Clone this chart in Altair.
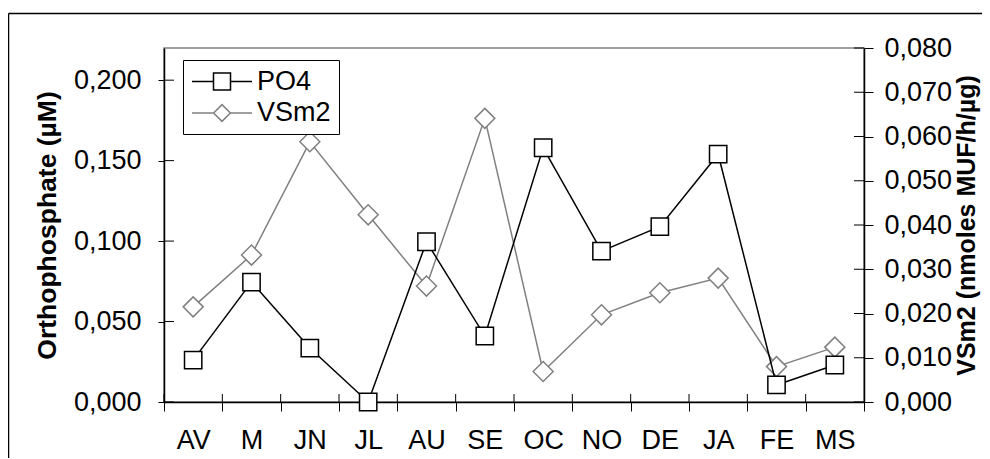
import altair as alt
import pandas as pd

months = ["AV", "M", "JN", "JL", "AU", "SE", "OC", "NO", "DE", "JA", "FE", "MS"]
po4 = [0.026, 0.0745, 0.0335, 0.0, 0.0996, 0.041, 0.158, 0.0938, 0.109, 0.154, 0.0106, 0.023]
vsm2 = [0.0215, 0.0332, 0.0588, 0.0423, 0.0262, 0.0641, 0.0069, 0.0197, 0.0247, 0.0280, 0.0080, 0.0124]
series = ["PO4", "VSm2"]
left_ticks = [0.0, 0.05, 0.10, 0.15, 0.20]
right_ticks = [0.0, 0.01, 0.02, 0.03, 0.04, 0.05, 0.06, 0.07, 0.08]
left_domain = [0, 0.22]
right_domain = [0, 0.08]

FONT = "Liberation Sans"
COMMA = "replace(format(datum.value, '.3f'), '.', ',')"
GRAY = "#808080"

df_p = pd.DataFrame({"month": months, "value": po4, "series": "PO4"})
df_v = pd.DataFrame({"month": months, "value": vsm2, "series": "VSm2"})
df_all = pd.concat([df_p, df_v], ignore_index=True)

xscale = alt.Scale(type="band", domain=months, paddingInner=0, paddingOuter=0)
xaxis = alt.Axis(title=None, tickBand="extent", labelAngle=0, labelFont=FONT, labelFontSize=27,
                 labelColor="black", tickSize=9, tickColor="black", tickWidth=1,
                 domainColor="black", domainWidth=1.5, labelPadding=16)
xenc = alt.X("month:N", sort=months, scale=xscale, axis=xaxis)
xenc_edge = alt.X("month:N", sort=months, bandPosition=0, scale=xscale, axis=xaxis)

lscale = alt.Scale(domain=left_domain, nice=False, zero=True)
rscale = alt.Scale(domain=right_domain, nice=False, zero=True)

laxis = alt.Axis(title="Orthophosphate (µM)", values=left_ticks, labelExpr=COMMA, grid=False,
                 orient="left", tickSize=6, tickColor="black", domainColor="black", domainWidth=1.5,
                 labelPadding=17, labelFont=FONT, labelFontSize=27, labelColor="black",
                 titleFont=FONT, titleFontSize=26.5, titleFontWeight="bold", titleColor="black",
                 titlePadding=12)
raxis = alt.Axis(title="VSm2 (nmoles MUF/h/µg)", values=right_ticks, labelExpr=COMMA, grid=False,
                 orient="right", tickSize=9, tickColor="black", domainColor="black", domainWidth=1.5,
                 labelPadding=11, labelFont=FONT, labelFontSize=27, labelColor="black",
                 titleFont=FONT, titleFontSize=25, titleFontWeight="bold", titleColor="black",
                 titleAngle=270, titleBaseline="top", titlePadding=3)

# legend symbols: connecting line with the marker, drawn in symbol units (12.5 px)
sq_path = "M-1,0H0.72M2.08,0H3.8M0.72,-0.68H2.08V0.68H0.72Z"
dia_path = "M-1,0H0.73M2.07,0H3.8M0.73,0L1.4,-0.67L2.07,0L1.4,0.67Z"

legend = alt.Legend(title=None, orient="none", legendX=19, legendY=12, symbolSize=625,
                    symbolStrokeWidth=1.5, symbolFillColor="white", symbolOpacity=1,
                    labelFont=FONT, labelFontSize=27, labelColor="black", labelOffset=39,
                    strokeColor="black", fillColor="white", padding=8, rowPadding=3.5)

# Left (PO4) layer
ly = alt.Y("value:Q", scale=lscale, axis=laxis)
line_p = alt.Chart(df_p).mark_line(color="black", strokeWidth=1.5).encode(x=xenc, y=ly)
pts_p = alt.Chart(df_p).mark_point(shape="square", size=300, filled=True, fill="white",
                                   stroke="black", strokeWidth=1.5, opacity=1).encode(x=xenc, y=ly)
legend_dummy = alt.Chart(df_all).mark_point(opacity=0).encode(
    x=xenc, y=ly,
    color=alt.Color("series:N", scale=alt.Scale(domain=series, range=["black", GRAY]), legend=legend),
    shape=alt.Shape("series:N", scale=alt.Scale(domain=series, range=[sq_path, dia_path]), legend=legend))
lticks_in = alt.Chart(pd.DataFrame({"value": left_ticks})).mark_rule(color="black", strokeWidth=1).encode(
    y=ly, x=alt.value(0), x2=alt.value(10))
xticks_in = alt.Chart(pd.DataFrame({"month": months})).mark_rule(color="black", strokeWidth=1).encode(
    x=xenc_edge, y=alt.value(346), y2=alt.value(354))
left = alt.layer(legend_dummy, lticks_in, xticks_in, line_p, pts_p)

# Right (VSm2) layer
ry = alt.Y("value:Q", scale=rscale, axis=raxis)
line_v = alt.Chart(df_v).mark_line(color=GRAY, strokeWidth=1.5).encode(x=xenc, y=ry)
pts_v = alt.Chart(df_v).mark_point(shape="diamond", size=400, filled=True, fill="white",
                                   stroke=GRAY, strokeWidth=1.5, opacity=1).encode(x=xenc, y=ry)
rticks_in = alt.Chart(pd.DataFrame({"value": right_ticks})).mark_rule(color="black", strokeWidth=1).encode(
    y=ry, x=alt.value(690), x2=alt.value(700))
right = alt.layer(line_v, pts_v, rticks_in)

# outer frame of the figure (top and left edges)
frame_top = alt.Chart(pd.DataFrame({"a": [0]})).mark_rule(color="black", strokeWidth=1.5).encode(
    x=alt.value(-155.5), x2=alt.value(830), y=alt.value(-34.5))
frame_left = alt.Chart(pd.DataFrame({"a": [0]})).mark_rule(color="black", strokeWidth=1.5).encode(
    x=alt.value(-155.5), y=alt.value(-34.5), y2=alt.value(420))

chart = alt.layer(right, left, frame_top, frame_left).resolve_scale(y="independent").properties(
    width=700, height=354,
    padding={"left": 156, "top": 40, "right": 118, "bottom": 56},
    autosize=alt.AutoSizeParams(type="none"),
).configure_view(stroke=GRAY, strokeWidth=1.5)

chart.save("out.html", embed_options={"renderer": "svg", "actions": False})
